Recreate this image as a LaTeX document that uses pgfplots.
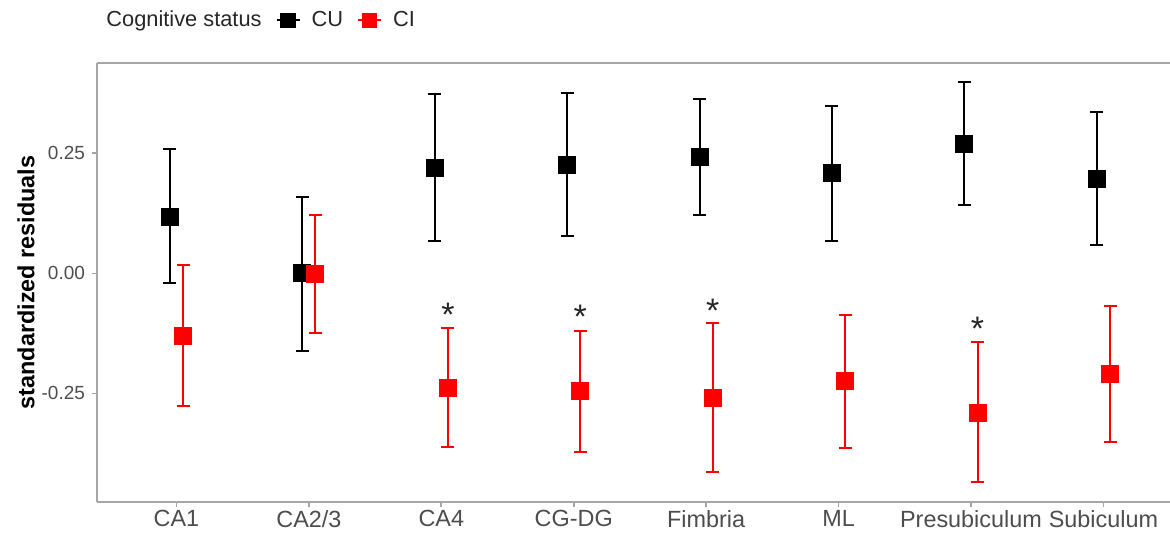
\documentclass[border=0pt]{standalone}
\usepackage{pgfplots}
\usepackage{pgfplotstable}
\pgfplotsset{compat=1.18}
\usepackage{fontspec}
\setmainfont{Liberation Sans}
\definecolor{cired}{HTML}{FF0000}
\definecolor{ticktext}{HTML}{4D4D4D}
\definecolor{framegray}{HTML}{A6A6A6}

\pgfplotstableread{
x y lo hi
0.95 0.118 -0.020 0.258
1.95 0.000 -0.161 0.160
2.95 0.220 0.067 0.373
3.95 0.226 0.078 0.376
4.95 0.243 0.121 0.363
5.95 0.208 0.067 0.349
6.95 0.269 0.143 0.399
7.95 0.196 0.060 0.336
}\cutable
\pgfplotstableread{
x y lo hi
1.05 -0.131 -0.276 0.017
2.05 -0.002 -0.124 0.121
3.05 -0.238 -0.361 -0.113
4.05 -0.245 -0.371 -0.120
5.05 -0.260 -0.414 -0.104
6.05 -0.224 -0.363 -0.087
7.05 -0.290 -0.435 -0.142
8.05 -0.210 -0.351 -0.068
}\citable
\pgfplotstableread{
x y
3.05 -0.072
4.05 -0.076
5.05 -0.062
7.05 -0.101
}\startable

\begin{document}
\begin{tikzpicture}
\useasboundingbox (-48.5pt,-15pt) rectangle (536.5pt,251pt);
\begin{axis}[
  scale only axis,
  width=536.5pt, height=219.5pt,
  xmin=0.4, xmax=8.503,
  ymin=-0.476, ymax=0.438,
  axis x line*=box,
  axis y line*=left,
  axis line style={framegray, line width=0.8pt},
  xtick={1,2,3,4,5,6,7,8},
  xticklabels={CA1,CA2/3,CA4,CG-DG,Fimbria,ML,Presubiculum,Subiculum},
  ytick={-0.25,0,0.25},
  yticklabels={-0.25,0.00,0.25},
  tick align=outside,
  major tick length=2.5pt,
  tick style={framegray, line width=0.8pt},
  xtick pos=bottom, ytick pos=left,
  x tick label style={font=\fontsize{11.7}{12}\selectfont, text=ticktext, yshift=2pt},
  y tick label style={font=\fontsize{9.5}{10}\selectfont, text=ticktext},
  ylabel={standardized residuals},
  every axis y label/.style={at={(axis description cs:-0.0662,0.5)}, anchor=center, rotate=90, font=\bfseries\fontsize{11.7}{12}\selectfont},
  legend columns=-1,
  legend image code/.code={
    \draw[#1, mark=none] (0pt,0pt) -- (11.5pt,0pt);
    \draw[#1, only marks] plot coordinates {(5.75pt,0pt)};
  },
  legend style={draw=none, fill=none, at={(axis description cs:-0.0018,1.0968)}, anchor=west,
    font=\fontsize{10.9}{11}\selectfont, text=black!85,
    /tikz/every even column/.append style={column sep=5pt},
    /tikz/every odd column/.append style={column sep=3.5pt},
    inner sep=0pt},
  legend cell align=left,
  clip=false,
]
\addlegendimage{empty legend}
\addlegendentry{Cognitive status}
\addlegendimage{black, line width=1pt, mark=square*, mark size=3.3pt}
\addlegendentry{CU}
\addlegendimage{cired, line width=1pt, mark=square*, mark size=3.3pt}
\addlegendentry{CI}
\addplot[black, line width=1pt, only marks, mark=square*, mark size=4pt, forget plot,
  error bars/.cd, y dir=both, y explicit, error mark=|,
  error bar style={line width=1pt, black},
  error mark options={line width=1pt, black, mark size=3.25pt}]
  table[x=x, y=y, y error plus expr=\thisrow{hi}-\thisrow{y}, y error minus expr=\thisrow{y}-\thisrow{lo}] {\cutable};
\addplot[cired, line width=1pt, only marks, mark=square*, mark size=4pt, forget plot,
  error bars/.cd, y dir=both, y explicit, error mark=|,
  error bar style={line width=1pt, cired},
  error mark options={line width=1pt, cired, mark size=3.25pt}]
  table[x=x, y=y, y error plus expr=\thisrow{hi}-\thisrow{y}, y error minus expr=\thisrow{y}-\thisrow{lo}] {\citable};
\addplot[only marks, mark=none, forget plot,
  nodes near coords={*},
  every node near coord/.style={anchor=base, yshift=-9.5pt, font=\fontsize{17}{17}\selectfont, text=black!85, inner sep=0pt}]
  table[x=x, y=y] {\startable};
\end{axis}
\end{tikzpicture}
\end{document}
